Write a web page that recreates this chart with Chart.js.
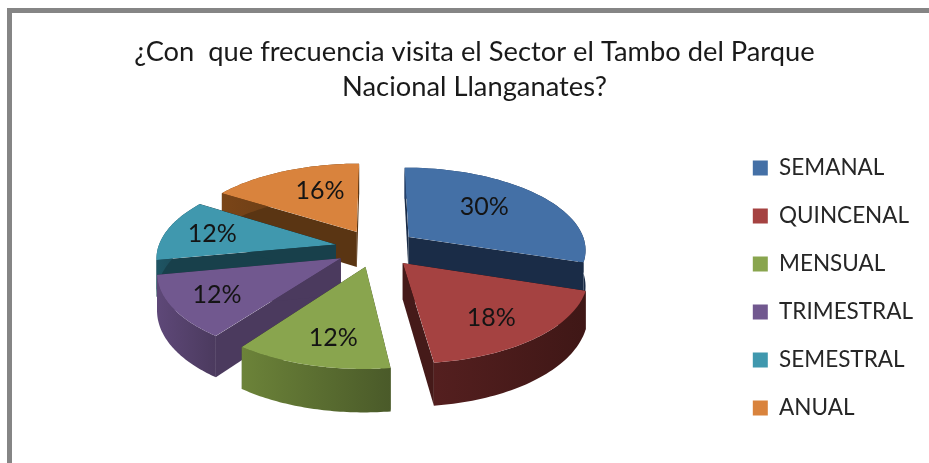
<!DOCTYPE html>
<html><head><meta charset="utf-8">
<style>html,body{margin:0;padding:0;background:#fff}canvas{display:block;filter:blur(0.4px)}</style>
<script src="https://cdn.jsdelivr.net/npm/chart.js@4"></script>
</head><body>
<canvas id="c" width="929" height="463"></canvas>
<script>
const titleLines = ['¿Con  que frecuencia visita el Sector el Tambo del Parque', 'Nacional Llanganates?'];
const categories = ['SEMANAL','QUINCENAL','MENSUAL','TRIMESTRAL','SEMESTRAL','ANUAL'];
const values = [30,18,12,12,12,16];
const topColors = ['#4470a6','#a54241','#89a54e','#71588f','#4098ae','#d9833d'];
const faceColors = ['#1a2c47','#451a19','#4a5a29','#4b3a5e','#18404b','#5a3513'];
const curveLeft = ['#24406a','#541f1f','#6c8339','#5e4878','#1f5564','#7a4518'];
const curveRight = ['#1a2c47','#3f1716','#4a5a29','#4b3a5e','#18404b','#5a3513'];
const paintOrder = [5,0,4,3,2,1];
const labelRadius = [0.616,0.726,0.74,0.75,0.73,0.62];
const labelTurn = [-0.08,0.054,-0.046,0,0,0.11];

// view of the tilted, exploded pie
const view = {cx:376, cy:248, a:178, b:82, k:0.14, explode:0.23, depth:36};
const wOf = Y => 1 - view.k * Y;
const project = (X,Y) => { const w = wOf(Y); return {x:view.cx + view.a*X/w, y:view.cy + view.b*Y/w, Y}; };

function sliceGeom(el){
  const p = el.getProps(['x','y','startAngle','endAngle','outerRadius'], true);
  const mid = (p.startAngle+p.endAngle)/2;
  const ox = view.explode*Math.cos(mid), oy = view.explode*Math.sin(mid);
  const R = p.outerRadius;
  const rim = th => project(ox+Math.cos(th), oy+Math.sin(th));
  const p0 = project(ox,oy), p1 = rim(p.startAngle), p2 = rim(p.endAngle);
  const u = [R*Math.cos(p.startAngle), R*Math.sin(p.startAngle)];
  const v = [R*Math.cos(p.endAngle), R*Math.sin(p.endAngle)];
  const det = u[0]*v[1]-u[1]*v[0];
  const du = [p1.x-p0.x, p1.y-p0.y], dv = [p2.x-p0.x, p2.y-p0.y];
  // affine map of the library's arc onto the view, slightly oversized; the exact outline clips it
  const grow = 1.25;
  const a = grow*(du[0]*v[1]-dv[0]*u[1])/det, c = grow*(dv[0]*u[0]-du[0]*v[0])/det;
  const b = grow*(du[1]*v[1]-dv[1]*u[1])/det, d = grow*(dv[1]*u[0]-du[1]*v[0])/det;
  const e = p0.x-a*p.x-c*p.y, f = p0.y-b*p.x-d*p.y;
  return {p,mid,ox,oy,p0,rim,m:[a,b,c,d,e,f]};
}

const pie3d = {
  id:'pie3d',
  beforeDraw(chart){
    const g = chart.ctx;
    g.save();
    g.fillStyle = '#858585';
    g.fillRect(7,8,chart.width-7,5);
    g.fillRect(7,8,5,chart.height-8);
    g.restore();
  },
  beforeDatasetDraw(chart){
    const g = chart.ctx, els = chart.getDatasetMeta(0).data;
    const drop = pt => ({x:pt.x, y:pt.y+view.depth/wOf(pt.Y)});
    paintOrder.forEach(i=>{
      const el = els[i], s = sliceGeom(el);
      const a0 = s.p.startAngle, a1 = s.p.endAngle;
      const quad = (A,B,col)=>{
        const C = drop(B), D = drop(A);
        g.beginPath(); g.moveTo(A.x,A.y); g.lineTo(B.x,B.y); g.lineTo(C.x,C.y); g.lineTo(D.x,D.y); g.closePath();
        g.fillStyle = col; g.fill();
      };
      quad(s.p0, s.rim(a0), faceColors[i]);
      quad(s.p0, s.rim(a1), faceColors[i]);
      const pts = [];
      const n = 48;
      for(let k=0;k<=n;k++) pts.push(s.rim(a0+(a1-a0)*k/n));
      const xs = pts.map(q=>q.x), xl = Math.min(...xs), xr = Math.max(...xs);
      const grad = g.createLinearGradient(xl,0,xr,0);
      grad.addColorStop(0,curveLeft[i]); grad.addColorStop(1,curveRight[i]);
      g.beginPath();
      pts.forEach((q,k)=> k? g.lineTo(q.x,q.y): g.moveTo(q.x,q.y));
      pts.slice().reverse().forEach(q=>{const b=drop(q); g.lineTo(b.x,b.y);});
      g.closePath(); g.fillStyle = grad; g.fill();
      g.save();
      g.beginPath(); g.moveTo(s.p0.x,s.p0.y);
      pts.forEach(q=>g.lineTo(q.x,q.y));
      g.closePath(); g.clip();
      g.transform(...s.m);
      el.draw(g);
      g.restore();
    });
    return false;
  },
  afterDatasetsDraw(chart){
    const g = chart.ctx, els = chart.getDatasetMeta(0).data;
    const total = values.reduce((a,b)=>a+b,0);
    g.save();
    g.font = '25px Lato'; g.fillStyle = '#141414'; g.textAlign='center'; g.textBaseline='middle';
    els.forEach((el,i)=>{
      const s = sliceGeom(el), r = labelRadius[i], th = s.mid + labelTurn[i];
      const q = project(s.ox+r*Math.cos(th), s.oy+r*Math.sin(th));
      g.fillText(Math.round(values[i]/total*100)+'%', q.x, q.y);
    });
    g.restore();
  }
};

new Chart(document.getElementById('c'), {
  type:'pie',
  data:{labels:categories, datasets:[{data:values, backgroundColor:topColors, borderWidth:0}]},
  plugins:[pie3d],
  options:{
    responsive:false, animation:false,
    layout:{padding:{left:26,right:6,top:0,bottom:8}},
    plugins:{
      tooltip:{enabled:false},
      title:{display:true, text:titleLines, color:'#1a1a1a', font:{family:'Lato',size:27.3,weight:'normal',lineHeight:1.28}, padding:{top:35,bottom:16}},
      legend:{position:'right', fullSize:false, labels:{color:'#262626', font:{family:'Lato',size:22.5}, boxWidth:15, boxHeight:15, padding:25.5}}
    }
  }
});
</script>
</body></html>
